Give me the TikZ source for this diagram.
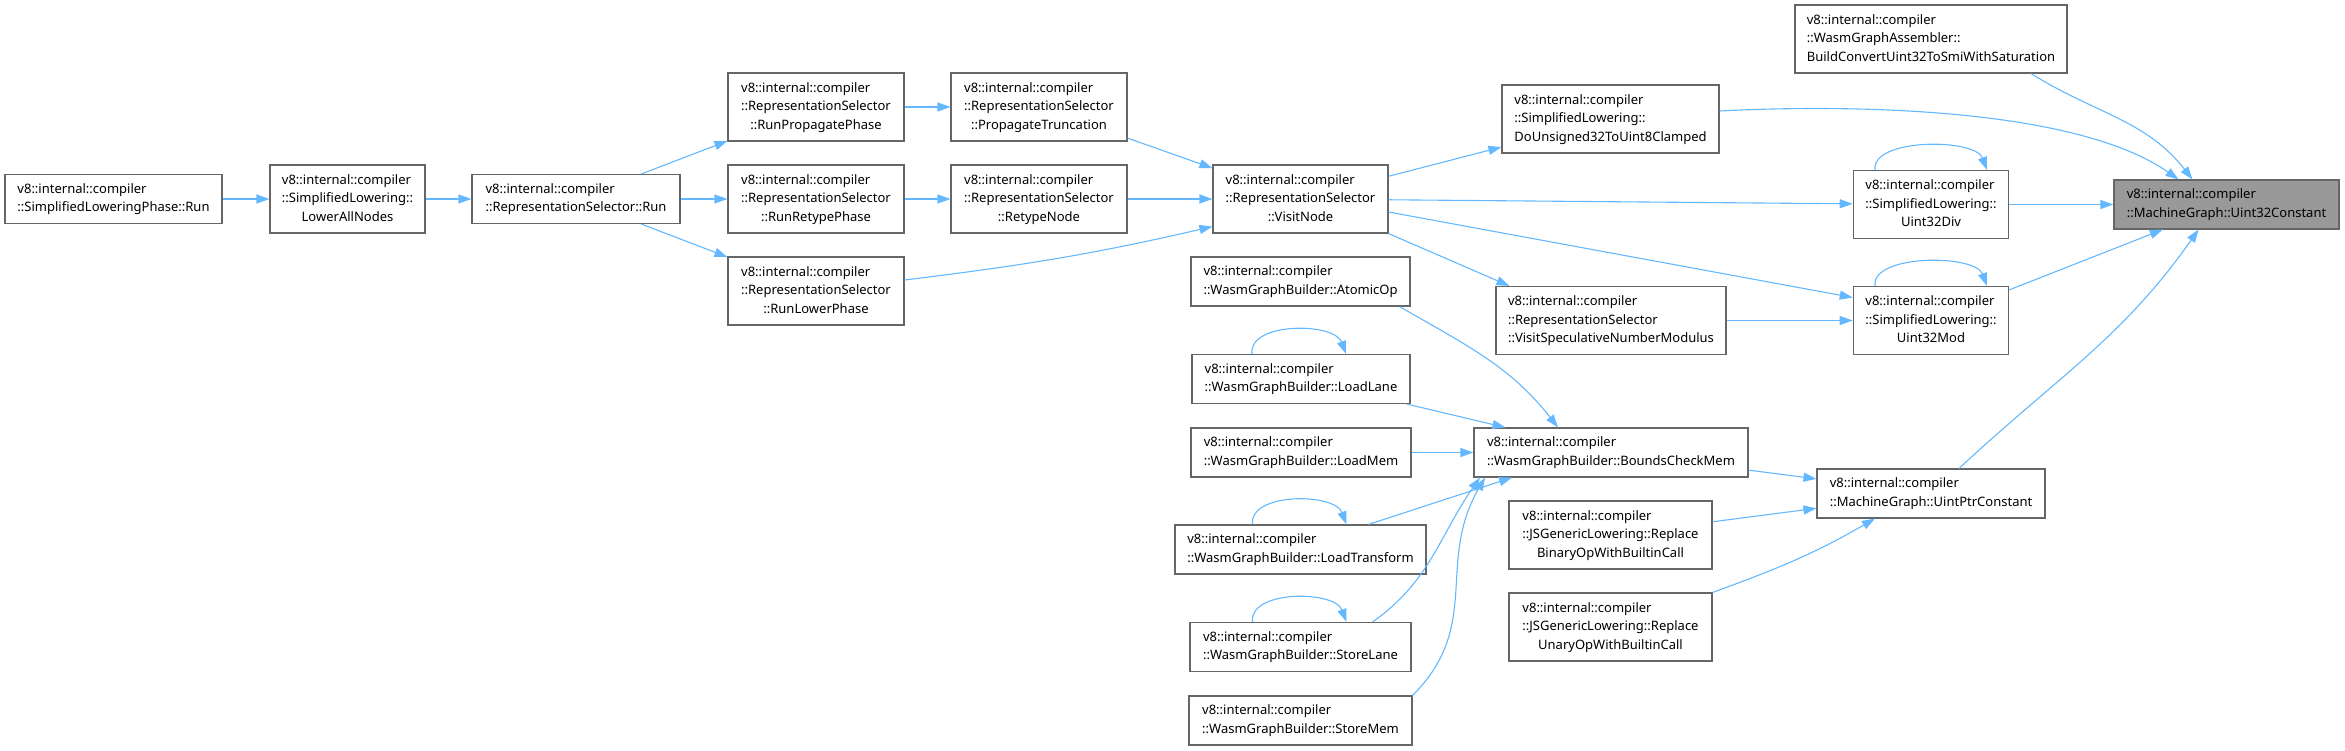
\documentclass[tikz,border=0pt]{standalone}
\usepackage{fontspec}
\setmainfont{Noto Sans}
\usepackage{tikz}
\usetikzlibrary{arrows.meta}
\definecolor{edgeblue}{RGB}{99,184,255}
\definecolor{boxline}{RGB}{102,102,102}
\definecolor{curfill}{RGB}{153,153,153}
% three-line label: first two lines left, last one centred
\newcommand{\tri}[3]{\begin{tabular}{@{}l@{}}#1\\#2\\\multicolumn{1}{@{}c@{}}{#3}\end{tabular}}

\begin{document}
\begin{tikzpicture}[x=1pt,y=1pt,
  fn/.style={rectangle,draw=boxline,line width=1.1pt,fill=white,align=left,inner sep=3pt,
             font=\fontsize{13}{18.7}\selectfont,minimum height=49pt},
  tall/.style={fn,minimum height=68pt},
  arr/.style={-{Triangle[length=13pt,width=9pt]},draw=edgeblue,line width=1.1pt}
]
\useasboundingbox (0,0) rectangle (2345,-750);
% Aufrufer links
\node[fn,minimum width=217pt] (phase) at (113.5,-199) {v8::internal::compiler\\::SimplifiedLoweringPhase::Run};
\node[tall,minimum width=155pt] (lower) at (347.5,-199) {\tri{v8::internal::compiler}{::SimplifiedLowering::}{LowerAllNodes}};
\node[fn,minimum width=208pt] (rsrun) at (576,-199) {v8::internal::compiler\\::RepresentationSelector::Run};
\node[tall,minimum width=176pt] (prop) at (816,-107) {\tri{v8::internal::compiler}{::RepresentationSelector}{::RunPropagatePhase}};
\node[tall,minimum width=176pt] (trunc) at (1039,-107) {\tri{v8::internal::compiler}{::RepresentationSelector}{::PropagateTruncation}};
\node[tall,minimum width=176pt] (rtph) at (816,-199) {\tri{v8::internal::compiler}{::RepresentationSelector}{::RunRetypePhase}};
\node[tall,minimum width=176pt] (retype) at (1039,-199) {\tri{v8::internal::compiler}{::RepresentationSelector}{::RetypeNode}};
\node[tall,minimum width=176pt] (lwph) at (816,-291) {\tri{v8::internal::compiler}{::RepresentationSelector}{::RunLowerPhase}};
\node[tall,minimum width=175pt] (visit) at (1300.5,-199) {\tri{v8::internal::compiler}{::RepresentationSelector}{::VisitNode}};

% WasmGraphBuilder
\node[fn,minimum width=219pt] (atomic) at (1300.5,-281.5) {v8::internal::compiler\\::WasmGraphBuilder::AtomicOp};
\node[fn,minimum width=218pt] (lane) at (1301,-379) {v8::internal::compiler\\::WasmGraphBuilder::LoadLane};
\node[fn,minimum width=220pt] (mem) at (1301,-452.5) {v8::internal::compiler\\::WasmGraphBuilder::LoadMem};
\node[fn,minimum width=251pt] (transf) at (1300.5,-549.5) {v8::internal::compiler\\::WasmGraphBuilder::LoadTransform};
\node[fn,minimum width=221pt] (slane) at (1300.5,-647) {v8::internal::compiler\\::WasmGraphBuilder::StoreLane};
\node[fn,minimum width=223pt] (smem) at (1300.5,-720.5) {v8::internal::compiler\\::WasmGraphBuilder::StoreMem};
\node[fn,minimum width=274pt] (bcm) at (1611,-452.5) {v8::internal::compiler\\::WasmGraphBuilder::BoundsCheckMem};

% mittlere Spalte
\node[tall,minimum width=217pt] (dou) at (1610.5,-119) {\tri{v8::internal::compiler}{::SimplifiedLowering::}{DoUnsigned32ToUint8Clamped}};
\node[tall,minimum width=230pt] (spec) at (1611,-320.5) {\tri{v8::internal::compiler}{::RepresentationSelector}{::VisitSpeculativeNumberModulus}};
\node[tall,minimum width=203pt] (binop) at (1610.5,-535) {\tri{v8::internal::compiler}{::JSGenericLowering::Replace}{BinaryOpWithBuiltinCall}};
\node[tall,minimum width=203pt] (unop) at (1610.5,-627) {\tri{v8::internal::compiler}{::JSGenericLowering::Replace}{UnaryOpWithBuiltinCall}};

% rechte Spalte
\node[tall,minimum width=272pt] (conv) at (1931,-39) {\tri{v8::internal::compiler}{::WasmGraphAssembler::}{BuildConvertUint32ToSmiWithSaturation}};
\node[tall,minimum width=155.5pt] (div) at (1931,-204.5) {\tri{v8::internal::compiler}{::SimplifiedLowering::}{Uint32Div}};
\node[tall,minimum width=155.5pt] (mod) at (1931,-320.5) {\tri{v8::internal::compiler}{::SimplifiedLowering::}{Uint32Mod}};
\node[fn,minimum width=228pt] (uptr) at (1931,-493.5) {v8::internal::compiler\\::MachineGraph::UintPtrConstant};
\node[fn,fill=curfill,minimum width=225pt] (u32c) at (2226.5,-204.5) {v8::internal::compiler\\::MachineGraph::Uint32Constant};

% Kanten
\draw[arr] (phase) -- (lower); \draw[arr] (lower) -- (rsrun);
\draw[arr] (rsrun) -- (prop); \draw[arr] (rsrun) -- (rtph); \draw[arr] (rsrun) -- (lwph);
\draw[arr] (prop) -- (trunc); \draw[arr] (rtph) -- (retype);
\draw[arr] (trunc) -- (visit); \draw[arr] (retype) -- (visit);
\draw[arr] ([yshift=11pt]lwph.east) to[out=7,in=193] ([yshift=7pt]visit.south west);
\draw[arr] (visit) -- (dou); \draw[arr] (visit) -- (div);
\draw[arr] ([yshift=-13pt]visit.east) -- ([yshift=23pt]mod.west);
\draw[arr] (visit.south east) -- ([xshift=14pt]spec.north west);
\draw[arr] (spec) -- (mod);
\draw[arr] ([xshift=-56pt]div.north) .. controls +(-4,32) and +(-12,32) .. ([xshift=56pt]div.north);
\draw[arr] ([xshift=-56pt]mod.north) .. controls +(-4,32) and +(-12,32) .. ([xshift=56pt]mod.north);
\draw[arr] ([yshift=8pt]dou.east) to[out=3,in=145,looseness=0.7] ([xshift=-48pt]u32c.north);
\draw[arr] ([xshift=100pt]conv.south) to[out=-32,in=128] ([xshift=-34pt]u32c.north);
\draw[arr] (div) -- (u32c); \draw[arr] (mod) -- (u32c);
\draw[arr] ([xshift=28pt]uptr.north) to[out=43,in=-125] ([xshift=-28pt]u32c.south);

\draw[arr] ([xshift=99pt]atomic.south) to[out=-30,in=128] ([xshift=-53pt]bcm.north);
\draw[arr] (lane) -- (bcm); \draw[arr] (mem) -- (bcm);
\draw[arr] ([xshift=68pt]transf.north) -- ([xshift=-99pt]bcm.south);
\draw[arr] ([xshift=72pt]slane.north) to[out=35,in=-125] ([xshift=-131pt]bcm.south);
\draw[arr] (smem.north east) to[out=45,in=-120,looseness=1.1] ([xshift=-126pt]bcm.south);
\draw[arr] ([xshift=-49pt]lane.north) .. controls +(-4,32) and +(-12,32) .. ([xshift=45pt]lane.north);
\draw[arr] ([xshift=-48pt]transf.north) .. controls +(-4,32) and +(-12,32) .. ([xshift=46pt]transf.north);
\draw[arr] ([xshift=-48pt]slane.north) .. controls +(-4,32) and +(-12,32) .. ([xshift=46pt]slane.north);

\draw[arr] (bcm) -- (uptr); \draw[arr] (binop) -- (uptr);
\draw[arr] (unop.north east) to[out=20,in=-150] ([xshift=-56pt]uptr.south);
\end{tikzpicture}
\end{document}
